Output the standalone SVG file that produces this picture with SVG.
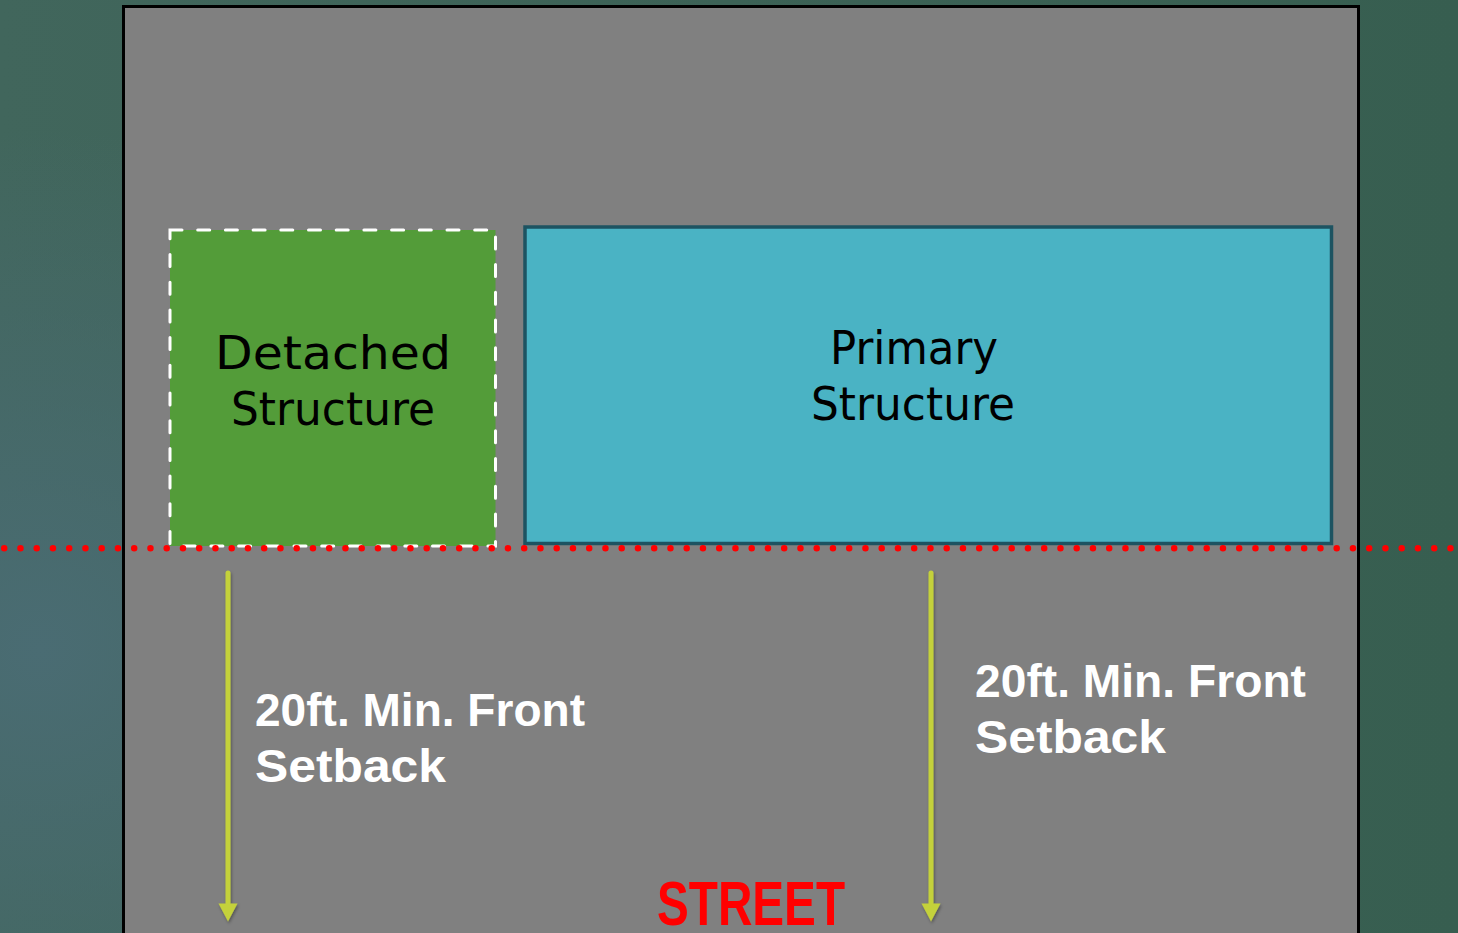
<svg xmlns="http://www.w3.org/2000/svg" width="1458" height="933" viewBox="0 0 1458 933">
  <defs>
    <linearGradient id="bg" x1="0" y1="0" x2="1" y2="0">
      <stop offset="0" stop-color="#41665c"/>
      <stop offset="1" stop-color="#375e50"/>
    </linearGradient>
    <radialGradient id="glow" cx="40" cy="650" r="520" gradientUnits="userSpaceOnUse">
      <stop offset="0" stop-color="#4a6c73" stop-opacity="1"/>
      <stop offset="1" stop-color="#4a6c73" stop-opacity="0"/>
    </radialGradient>
    <filter id="shadow" x="-50%" y="-5%" width="200%" height="110%">
      <feDropShadow dx="1" dy="2" stdDeviation="1.5" flood-color="#000" flood-opacity="0.35"/>
    </filter>
  </defs>
  <style>
    .label { font-family: "DejaVu Sans", "Liberation Sans", sans-serif; font-size: 47px; fill: #000; text-anchor: middle; }
    .setback { font-family: "Liberation Sans", Arial, sans-serif; font-size: 46px; font-weight: bold; fill: #fff; }
    .shaft { stroke: #c4d13a; stroke-width: 5; stroke-linecap: round; fill: none; }
    .head { fill: #c4d13a; }
  </style>

  <rect x="0" y="0" width="1458" height="933" fill="url(#bg)"/>
  <rect x="0" y="0" width="1458" height="933" fill="url(#glow)"/>

  <g id="lot">
    <rect x="123.5" y="6.5" width="1235" height="1000" fill="#808080" stroke="#000" stroke-width="3"/>
  </g>

  <g id="detached">
    <rect x="170" y="230" width="325.5" height="316" fill="#539c39" stroke="#fff" stroke-width="3" stroke-dasharray="12 15.7" stroke-linecap="round"/>
    <text class="label" x="333" y="369" textLength="236" lengthAdjust="spacingAndGlyphs">Detached</text>
    <text class="label" x="333" y="425" textLength="204" lengthAdjust="spacingAndGlyphs">Structure</text>
  </g>

  <g id="primary">
    <rect x="525" y="227" width="806.5" height="316.5" fill="#4ab3c4" stroke="#1d5361" stroke-width="3.5"/>
    <text class="label" x="914" y="364" textLength="168" lengthAdjust="spacingAndGlyphs">Primary</text>
    <text class="label" x="913" y="420" textLength="204" lengthAdjust="spacingAndGlyphs">Structure</text>
  </g>

  <g id="setback-line">
    <line x1="4.2" y1="548.3" x2="1458" y2="548.3" stroke="#ff0000" stroke-width="6.5" stroke-linecap="round" stroke-dasharray="0 16.25"/>
  </g>

  <g id="connectors" filter="url(#shadow)">
    <line class="shaft" x1="228" y1="573" x2="228" y2="904"/>
    <path class="head" d="M218.5,903.5 L237.5,903.5 L228,921.5 Z"/>
    <line class="shaft" x1="931" y1="573" x2="931" y2="904"/>
    <path class="head" d="M921.5,903.5 L940.5,903.5 L931,921.5 Z"/>
  </g>

  <g id="setback-left">
    <text class="setback" x="255" y="726" textLength="330" lengthAdjust="spacingAndGlyphs">20ft. Min. Front</text>
    <text class="setback" x="255" y="782" textLength="191" lengthAdjust="spacingAndGlyphs">Setback</text>
  </g>

  <g id="setback-right">
    <text class="setback" x="975" y="697" textLength="331" lengthAdjust="spacingAndGlyphs">20ft. Min. Front</text>
    <text class="setback" x="975" y="753" textLength="191" lengthAdjust="spacingAndGlyphs">Setback</text>
  </g>

  <g id="street">
    <text x="657" y="925" font-family="Liberation Sans, Arial, sans-serif" font-size="63" font-weight="bold" fill="#ff0000" textLength="188" lengthAdjust="spacingAndGlyphs">STREET</text>
  </g>
</svg>
